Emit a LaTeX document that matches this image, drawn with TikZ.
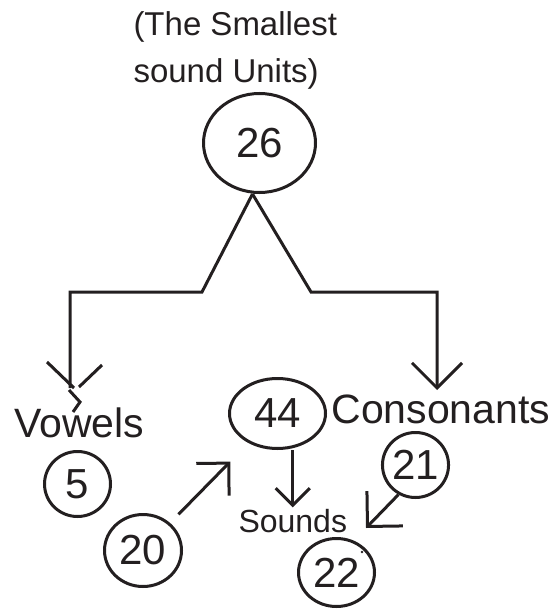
\documentclass[tikz,border=0pt]{standalone}
\usepackage{fontspec}
\setmainfont{Liberation Sans}
\usetikzlibrary{arrows.meta}
\usetikzlibrary{shapes.geometric}

\definecolor{ink}{HTML}{231F20}

\tikzset{
  num/.style={draw, ellipse, inner sep=0pt, font=\fontsize{42}{42}\selectfont},
  word/.style={inner sep=0pt, font=\fontsize{41}{41}\selectfont},
  barbed/.style={arrows=-{Straight Barb[length=#1, width=2*#1]}},
  barbed/.default=22pt
}

\begin{document}
\begin{tikzpicture}[x=1pt, y=-1pt, line width=3pt, color=ink]
  \useasboundingbox (0,0) rectangle (550,609);
  % titulo y raiz
  \node [word, font=\fontsize{33}{47}\selectfont, align=left, anchor=base west] (title) at (132,83) {(The Smallest\\sound Units)};
  \node [num, minimum width=112pt, minimum height=99pt] (n26) at (259.5,143) {26};
  % ramas
  \node [word, anchor=base west] (vowels) at (13,437) {Vowels};
  \node [word, anchor=base west] (consonants) at (330,423) {Consonants};
  \node [word, font=\fontsize{32}{32}\selectfont, anchor=base west] (sounds) at (237,532) {Sounds};
  \node [num, minimum width=96pt, minimum height=70pt] (n44) at (277.5,413.5) {44};
  \node [num, minimum width=66pt, minimum height=65pt] (n5) at (77.5,484) {5};
  \node [num, minimum width=77pt, minimum height=72pt] (n20) at (143,550.5) {20};
  \node [num, minimum width=64pt, minimum height=65pt] (n21) at (415.5,465) {21};
  \node [num, minimum width=76pt, minimum height=68pt] (n22) at (336.5,572.5) {22};
  \coordinate (apex) at ([xshift=-7pt]n26.south);
  \coordinate (vtip) at (70,388);
  \coordinate (ctip) at (437,390);
  \coordinate (stip) at (366,528);
  % arbol
  \draw [line join=miter] (apex) -- (202,292) -| (vtip); % izquierda, punta rota
  \draw (47,362) -- (74,388);
  \draw (102,365) -- (79,387);
  \draw (69,390) -- (80,402) -- (73,412);
  \draw [barbed=25pt, line join=miter] (apex) -- (311,292) -| (ctip); % derecha
  % flechas abajo
  \draw [barbed=23pt, shorten <=12pt, shorten >=26pt] (n20) -- (n44);
  \draw [barbed=17pt] (n44.south -| sounds.north) -- (sounds.north);
  \draw [barbed=25pt] (n21.240) -- (stip);
  \fill (362,552) circle (1.3pt);
\end{tikzpicture}
\end{document}
